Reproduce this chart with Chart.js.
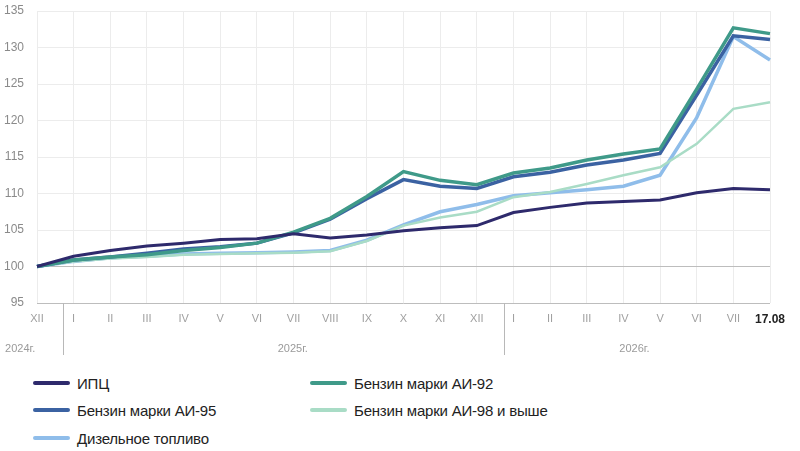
<!DOCTYPE html>
<html>
<head>
<meta charset="utf-8">
<script src="https://cdn.jsdelivr.net/npm/chart.js@4.4.1/dist/chart.umd.min.js"></script>
<style>
  body { margin: 0; background: #fff; width: 800px; height: 451px; overflow: hidden; }
  #wrap { position: relative; width: 800px; height: 362px; }
  #legend { position: relative; height: 89px; font-family: "Liberation Sans Narrow", "Liberation Sans", Arial, sans-serif; font-size: 15px; color: #222; }
  .item { position: absolute; display: flex; align-items: center; height: 20px; letter-spacing: -0.2px; }
  .item span.sw { display: inline-block; width: 37px; height: 4px; border-radius: 2px; margin-right: 7px; }
</style>
</head>
<body>
<div id="wrap"><canvas id="chart"></canvas></div>
<div id="legend"></div>
<script>
const labels = ["XII", "I", "II", "III", "IV", "V", "VI", "VII", "VIII", "IX", "X", "XI", "XII",
  "I", "II", "III", "IV", "V", "VI", "VII", "17.08"];
const years = ["2024г.", "2025г.", "2026г."];

const cpi = [100, 101.4, 102.2, 102.8, 103.2, 103.7, 103.8, 104.5, 103.9, 104.3, 104.9, 105.3, 105.6,
  107.4, 108.1, 108.7, 108.9, 109.1, 110.1, 110.7, 110.5];
const ai92 = [100, 100.9, 101.3, 101.6, 102.2, 102.6, 103.2, 104.7, 106.6, 109.6, 113.0, 111.8, 111.2,
  112.8, 113.5, 114.6, 115.4, 116.1, 124.3, 132.7, 131.9];
const ai95 = [100, 100.9, 101.3, 101.8, 102.4, 102.7, 103.2, 104.6, 106.5, 109.3, 111.9, 111.0, 110.7,
  112.3, 112.9, 113.9, 114.6, 115.5, 123.5, 131.6, 131.1];
const ai98 = [100, 100.7, 101.1, 101.3, 101.6, 101.7, 101.8, 101.9, 102.1, 103.5, 105.6, 106.7, 107.5,
  109.5, 110.2, 111.3, 112.5, 113.6, 116.8, 121.6, 122.5];
const diesel = [100, 100.7, 101.2, 101.4, 101.7, 101.8, 101.9, 102.0, 102.2, 103.6, 105.7, 107.5, 108.5,
  109.7, 110.1, 110.5, 111.0, 112.5, 120.4, 131.5, 128.3];

const series = [
  { label: "ИПЦ", data: cpi, color: "#2e2a6c", width: 3 },
  { label: "Бензин марки АИ-92", data: ai92, color: "#3f9a89", width: 3.5 },
  { label: "Бензин марки АИ-95", data: ai95, color: "#3b62a2", width: 3.5 },
  { label: "Бензин марки АИ-98 и  выше", data: ai98, color: "#a9dcc6", width: 2.5 },
  { label: "Дизельное топливо", data: diesel, color: "#8fbdea", width: 3.5 }
];

// year captions and separators under the month axis
const yearRow = {
  id: "yearRow",
  afterDraw(chart) {
    const ctx = chart.ctx;
    const x = chart.scales.x;
    const step = x.getPixelForValue(1) - x.getPixelForValue(0);
    const at = (i) => x.getPixelForValue(0) + i * step;
    const bottom = chart.chartArea.bottom;
    ctx.save();
    ctx.strokeStyle = "#b8b8b8";
    ctx.lineWidth = 1;
    [0.72, 12.75].forEach(i => {
      ctx.beginPath();
      ctx.moveTo(Math.round(at(i)) + 0.5, bottom);
      ctx.lineTo(Math.round(at(i)) + 0.5, bottom + 52);
      ctx.stroke();
    });
    ctx.fillStyle = "#9a9a9a";
    ctx.font = "11px 'Liberation Sans', Arial, sans-serif";
    ctx.textAlign = "center";
    ctx.textBaseline = "middle";
    [-0.46, 6.98, 16.3].forEach((i, k) => ctx.fillText(years[k], at(i), bottom + 46));
    ctx.restore();
  }
};

new Chart(document.getElementById("chart"), {
  type: "line",
  data: {
    labels: labels,
    datasets: series.map(s => ({
      label: s.label,
      data: s.data,
      borderColor: s.color,
      backgroundColor: s.color,
      borderWidth: s.width,
      pointRadius: 0,
      tension: 0,
      fill: false
    }))
  },
  options: {
    responsive: true,
    maintainAspectRatio: false,
    animation: false,
    layout: { padding: { top: 0, right: 30, left: 0, bottom: 0 } },
    plugins: {
      legend: { display: false },
      tooltip: { enabled: false }
    },
    scales: {
      x: {
        offset: false,
        afterFit(scale) { scale.height = 59; },
        grid: { color: "#ececec", drawTicks: false },
        border: { display: false },
        ticks: {
          autoSkip: false,
          maxRotation: 0,
          padding: 9,
          color: (c) => c.index === labels.length - 1 ? "#222" : "#a0a0a0",
          font: (c) => c.index === labels.length - 1
            ? { family: "'Liberation Sans', Arial, sans-serif", size: 12, weight: "bold" }
            : { family: "'Liberation Sans', Arial, sans-serif", size: 11 }
        }
      },
      y: {
        min: 95,
        max: 135,
        afterFit(scale) {
          scale.width = 37;
          scale.paddingTop = 11;
          scale.paddingBottom = 0;
        },
        grid: {
          color: (c) => (c.tick && (c.tick.value === 100 || c.tick.value === 95)) ? "#bdbdbd" : "#ececec",
          drawTicks: false
        },
        border: { display: false },
        ticks: {
          stepSize: 5,
          padding: 13,
          color: "#8a8a8a",
          font: { family: "'Liberation Sans', Arial, sans-serif", size: 12 }
        }
      }
    }
  },
  plugins: [yearRow]
});

// legend in two columns
const spots = [[33, 11], [310, 11], [33, 38], [310, 38], [33, 66]];
const legend = document.getElementById("legend");
series.forEach((s, i) => {
  const d = document.createElement("div");
  d.className = "item";
  d.style.left = spots[i][0] + "px";
  d.style.top = spots[i][1] + "px";
  d.innerHTML = '<span class="sw" style="background:' + s.color + '"></span>' + s.label;
  legend.appendChild(d);
});
</script>
</body>
</html>
